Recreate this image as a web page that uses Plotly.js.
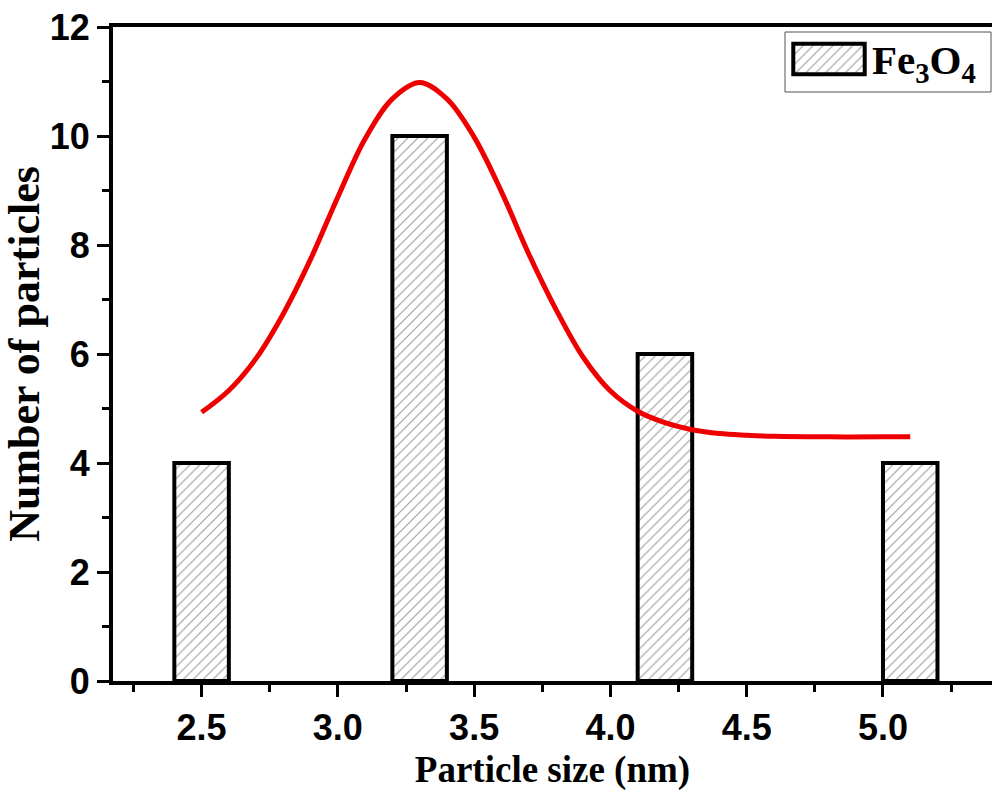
<!DOCTYPE html>
<html>
<head>
<meta charset="utf-8">
<script src="https://cdn.plot.ly/plotly-3.0.1.min.js"></script>
<style>html,body{margin:0;padding:0;background:#fff;}#chart{width:992px;height:794px;}</style>
</head>
<body>
<div id="chart"></div>
<script>
// Histogram bars
var barSizes = [2.5, 3.3, 4.2, 5.1];
var barCounts = [4, 10, 6, 4];
var seriesName = 'Fe<sub>3</sub>O<sub>4</sub>';
// Red fitted curve
var curveX = [2.5, 2.6, 2.7, 2.8, 2.9, 3.0, 3.1, 3.2, 3.3, 3.4, 3.5, 3.6, 3.7, 3.8, 3.9, 4.0, 4.1, 4.2, 4.3, 4.4, 4.5, 4.6, 4.8, 5.0, 5.1];
var curveY = [4.93, 5.33, 5.92, 6.74, 7.74, 8.88, 9.95, 10.68, 10.98, 10.68, 9.98, 8.98, 7.84, 6.82, 5.94, 5.32, 4.95, 4.74, 4.61, 4.54, 4.51, 4.49, 4.48, 4.48, 4.48];
var xTickVals = [2.5, 3.0, 3.5, 4.0, 4.5, 5.0];
var xTickText = ['2.5', '3.0', '3.5', '4.0', '4.5', '5.0'];
var xMinorVals = [2.25, 2.75, 3.25, 3.75, 4.25, 4.75, 5.25];
var yTickVals = [0, 2, 4, 6, 8, 10, 12];
var yTickText = ['0', '2', '4', '6', '8', '10', '12'];
var yMinorVals = [1, 3, 5, 7, 9, 11];
// legend sample bar
var legendSampleX = [0];
var legendSampleY = [1];

var barMarker = {
  color: '#ffffff',
  line: {color: '#000000', width: 4},
  pattern: {shape: '/', fgcolor: '#333333', bgcolor: '#ffffff', size: 7, solidity: 0.15, fillmode: 'overlay'}
};

var bars = {
  type: 'bar', x: barSizes, y: barCounts, width: 0.2,
  name: seriesName, marker: barMarker, hoverinfo: 'skip', showlegend: false
};
var curve = {
  type: 'scatter', mode: 'lines', x: curveX, y: curveY,
  line: {color: '#ee0000', width: 5, shape: 'spline', smoothing: 1},
  showlegend: false, hoverinfo: 'skip'
};
var legendSample = {
  type: 'bar', x: legendSampleX, y: legendSampleY, width: 1,
  xaxis: 'x2', yaxis: 'y2', marker: barMarker,
  showlegend: false, hoverinfo: 'skip'
};

var W = 992, H = 794, ML = 113, MR = 0, MT = 27, MB = 113;
var PW = W - ML - MR, PH = H - MT - MB;
function px(x) { return (x - ML) / PW; }
function py(y) { return (H - MB - y) / PH; }

var layout = {
  width: W, height: H,
  margin: {l: ML, r: MR, t: MT, b: MB},
  paper_bgcolor: '#ffffff', plot_bgcolor: '#ffffff',
  showlegend: false,
  xaxis: {
    range: [2.175, 5.40],
    tickmode: 'array', tickvals: xTickVals, ticktext: xTickText,
    ticks: 'outside', ticklen: 12, tickwidth: 3, tickcolor: '#000',
    showline: true, linewidth: 4, linecolor: '#000', mirror: true,
    showgrid: false, zeroline: false,
    minor: {tickmode: 'array', tickvals: xMinorVals, ticks: 'outside', ticklen: 7, tickwidth: 3, tickcolor: '#000', showgrid: false},
    tickfont: {family: 'Liberation Sans', size: 36, color: '#000', weight: 'bold'},
    title: {text: 'Particle size (nm)', standoff: 10, font: {family: 'Liberation Serif', size: 37, color: '#000', weight: 'bold'}}
  },
  yaxis: {
    range: [0, 12],
    tickmode: 'array', tickvals: yTickVals, ticktext: yTickText,
    ticks: 'outside', ticklen: 12, tickwidth: 3, tickcolor: '#000',
    showline: true, linewidth: 4, linecolor: '#000', mirror: false,
    showgrid: false, zeroline: false,
    minor: {tickmode: 'array', tickvals: yMinorVals, ticks: 'outside', ticklen: 7, tickwidth: 3, tickcolor: '#000', showgrid: false},
    tickfont: {family: 'Liberation Sans', size: 36, color: '#000', weight: 'bold'},
    title: {text: 'Number of particles', standoff: 12, font: {family: 'Liberation Serif', size: 44, color: '#000', weight: 'bold'}}
  },
  xaxis2: {
    domain: [px(789), px(869)], range: [-0.56, 0.56], anchor: 'y2',
    visible: false, fixedrange: true
  },
  yaxis2: {
    domain: [py(78), py(40)], range: [-0.12, 1.12], anchor: 'x2',
    visible: false, fixedrange: true
  },
  shapes: [{
    type: 'rect', xref: 'paper', yref: 'paper',
    x0: px(785), x1: px(991), y0: py(92), y1: py(32),
    line: {color: '#555555', width: 1}, fillcolor: 'rgba(0,0,0,0)', layer: 'above'
  }],
  annotations: [{
    xref: 'paper', yref: 'paper', x: px(870), y: py(63), xanchor: 'left', yanchor: 'middle',
    text: seriesName, showarrow: false,
    font: {family: 'Liberation Serif', size: 41, color: '#000', weight: 'bold'}
  }]
};

Plotly.newPlot('chart', [bars, curve, legendSample], layout, {staticPlot: true, displayModeBar: false});
</script>
</body>
</html>
